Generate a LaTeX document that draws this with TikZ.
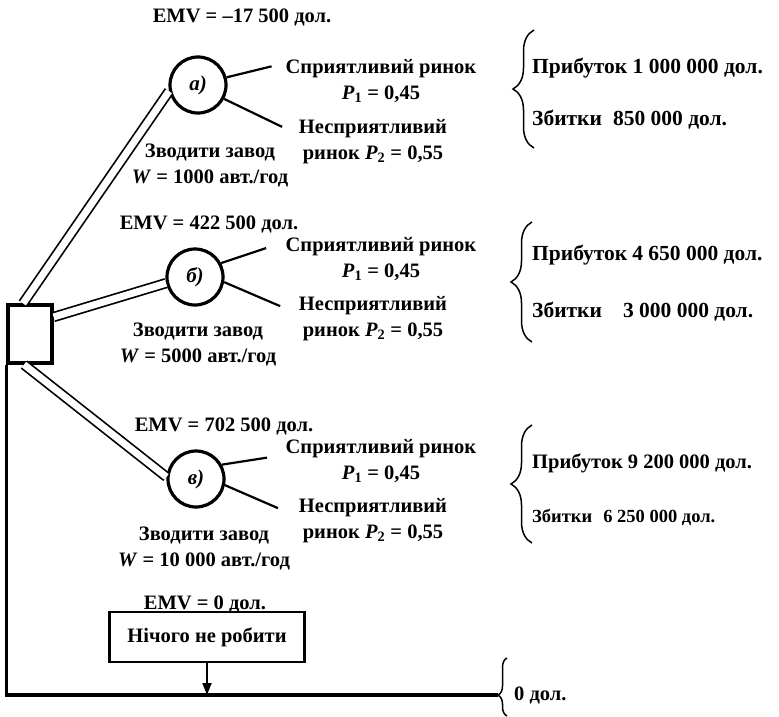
\documentclass[tikz,border=0pt]{standalone}
\usepackage{fontspec}
\setmainfont{Liberation Serif}
\usetikzlibrary{arrows.meta, positioning, decorations.pathreplacing}

% probability with an italic letter
\newcommand{\prob}[1]{\textit{P}\textsubscript{#1}}

\begin{document}
\begin{tikzpicture}[x=1pt, y=-1pt,
  lbl/.style={font=\fontsize{20.5}{26}\selectfont\bfseries, align=center, inner sep=0pt},
  outcome/.style={lbl, anchor=west, font=\fontsize{21.5}{26}\selectfont\bfseries},
  chance/.style={circle, draw, line width=3.2pt, minimum size=56pt, inner sep=0pt,
    font=\fontsize{21}{22}\selectfont\bfseries\itshape},
  decision/.style={rectangle, draw, line width=3.2pt, minimum width=44pt, minimum height=58pt},
  choice/.style={draw, double=white, double distance=7pt, line width=1.7pt},
  branch/.style={line width=2.2pt},
  curly/.style={decorate, decoration={brace, amplitude=#1}, line width=1.5pt},
]
  \useasboundingbox (0,0) rectangle (779,717);

  % decision point
  \node[decision] (dec) at (30,334) {};

  % alternative a)
  \node[lbl] (emvA) at (242,17) {EMV = –17 500 дол.};
  \node[chance] (ca) at (198,85) {а)};
  \node[lbl] (favA) at (381,81) {Сприятливий ринок\\ \prob{1} = 0,45};
  \node[lbl] (unfA) at (373,142) {Несприятливий\\ ринок \prob{2} = 0,55};
  \node[lbl] (buildA) at (210,165) {Зводити завод\\ \textit{W} = 1000 авт./год};
  \node[outcome] (winA) at (532,68) {Прибуток 1 000 000 дол.};
  \node[outcome] (lossA) at (532,120) {Збитки\hspace{11pt}850 000 дол.};

  % alternative b)
  \node[lbl] (emvB) at (209,224) {EMV = 422 500 дол.};
  \node[chance] (cb) at (195,277) {б)};
  \node[lbl] (favB) at (381,259) {Сприятливий ринок\\ \prob{1} = 0,45};
  \node[lbl] (unfB) at (373,319) {Несприятливий\\ ринок \prob{2} = 0,55};
  \node[lbl] (buildB) at (198,344) {Зводити завод\\ \textit{W} = 5000 авт./год};
  \node[outcome] (winB) at (532,255) {Прибуток\hspace{5pt}4 650 000 дол.};
  \node[outcome] (lossB) at (532,312) {Збитки\hspace{21pt}3 000 000 дол.};

  % alternative c)
  \node[lbl] (emvC) at (224,426) {EMV = 702 500 дол.};
  \node[chance] (cc) at (196,479) {в)};
  \node[lbl] (favC) at (381,461) {Сприятливий ринок\\ \prob{1} = 0,45};
  \node[lbl] (unfC) at (373,521) {Несприятливий\\ ринок \prob{2} = 0,55};
  \node[lbl] (buildC) at (204,548) {Зводити завод\\ \textit{W} = 10 000 авт./год};
  \node[outcome, font=\fontsize{20.5}{22}\selectfont\bfseries] (winC) at (532,463) {Прибуток\hspace{5pt}9 200 000 дол.};
  \node[outcome, font=\fontsize{18.5}{22}\selectfont\bfseries] (lossC) at (532,517) {Збитки\hspace{11pt}6 250 000 дол.};

  % do nothing
  \node[lbl] (emvN) at (205,604) {EMV = 0 дол.};
  \node[draw, line width=2.8pt, minimum width=195pt, minimum height=50pt, lbl] (none) at (207,637) {Нічого не робити};
  \node[lbl, anchor=west] (zero) at (514,695) {0 дол.};
  \coordinate (zl) at (498,695);

  % choices from the decision point
  \draw[choice] ([xshift=-7pt]dec.north) -- (ca.192);
  \draw[choice] ([yshift=17pt]dec.east) -- (cb.192);
  \draw[choice] ([xshift=-6pt]dec.south) -- (cc.176);
  \draw[line width=3.2pt] (dec.south west) |- (zl);
  \draw[line width=2pt, -{Triangle[length=12pt, width=9pt]}] (none.south) -- (none.south |- zl);

  % market branches
  \draw[branch] (ca.15) -- ++(45,-11);
  \draw[branch] (ca.-28) -- ++(58,28);
  \draw[branch] (cb.28) -- ++(45,-15);
  \draw[branch] (cb.-10) -- ++(56,24);
  \draw[branch] (cc.29) -- ++(45,-7);
  \draw[branch] (cc.-12) -- ++(53,23);

  % outcome braces
  \draw[curly=21pt] (534,148) -- (534,30);
  \draw[curly=21pt] (532,342) -- (532,222);
  \draw[curly=21pt] (532,543) -- (532,425);
  \draw[decorate, decoration={brace, amplitude=9pt, aspect=0.36}, line width=1.5pt] (507,716) -- (507,658);
\end{tikzpicture}
\end{document}
